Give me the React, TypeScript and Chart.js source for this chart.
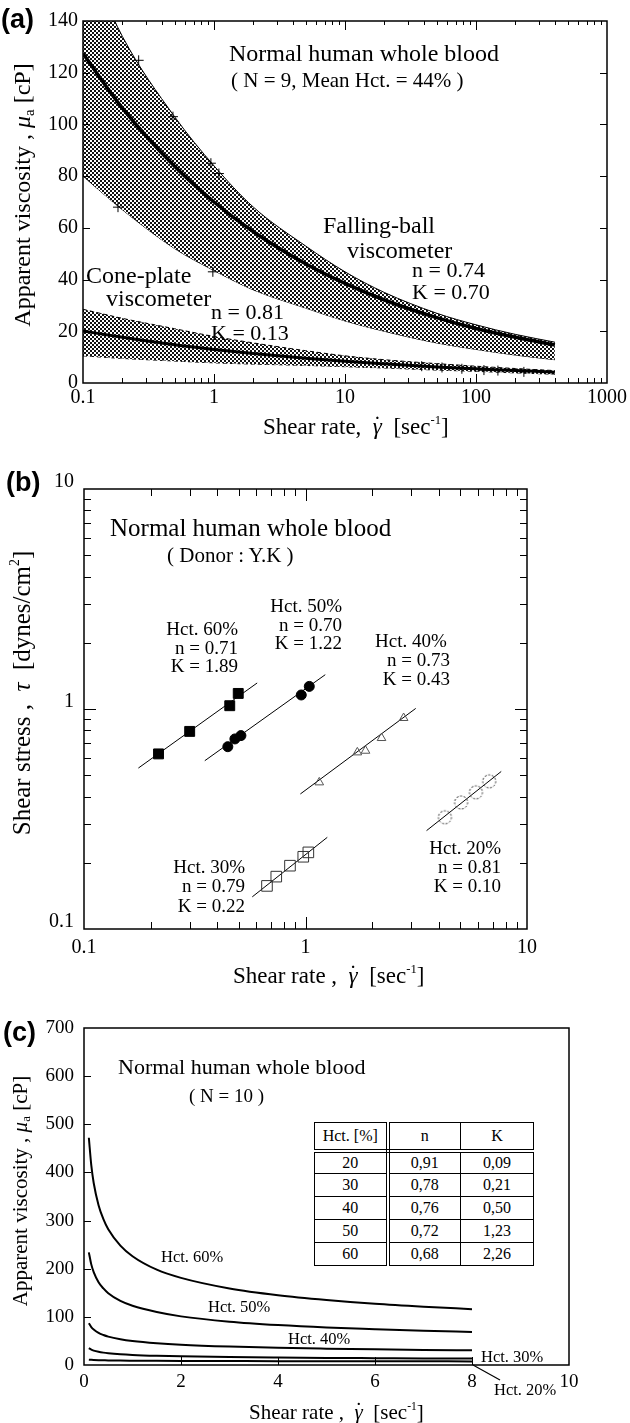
import React, { useEffect, useRef } from 'react';
import { Chart, registerables } from 'chart.js';

Chart.register(...registerables);

const SERIF = "'Liberation Serif', 'Times New Roman', Times, serif";
const SANS = "'Liberation Sans', Arial, Helvetica, sans-serif";

// ---------- Panel (a): apparent viscosity vs shear rate ----------
const A_SHEAR = [0.1, 0.2, 0.5, 1, 2, 5, 10, 20, 50, 100, 200, 400];
const A_FB_MEAN = [127.4, 106.3, 83.8, 70, 58.5, 46.1, 38.5, 32.1, 25.3, 21.1, 17.7, 14.7];
const A_FB_UPPER = [168, 134, 103, 84, 68, 53, 43, 35, 27, 22.5, 18.8, 15.8];
const A_FB_LOWER = [80, 67, 52, 43.5, 36, 29, 24, 20, 15.5, 13, 10.8, 9];
const A_CP_MEAN = [20.1, 17.7, 14.8, 13, 11.4, 9.6, 8.4, 7.4, 6.2, 5.5, 4.8, 4.2];
const A_CP_UPPER = [28.5, 25, 21, 18, 15.5, 12.5, 10.5, 9, 7.5, 6.5, 5.6, 4.8];
const A_CP_LOWER = [10.5, 9.5, 8.5, 7.8, 7.3, 6.8, 6.3, 5.8, 5.0, 4.5, 3.9, 3.4];
const A_MARK_X = [0.266, 0.486, 0.947, 1.09, 0.185, 0.98, 38.5, 55, 78, 115, 147, 232];
const A_MARK_Y = [124.8, 103, 85, 81, 68, 43, 6.5, 6, 5.5, 5, 4.8, 4.3];
const A_X_TICKS = [0.1, 1, 10, 100, 1000];
const A_Y_TICKS = [0, 20, 40, 60, 80, 100, 120, 140];

// ---------- Panel (b): shear stress vs shear rate (log-log) ----------
const B_H60_X = [0.217, 0.3, 0.455, 0.497];
const B_H60_Y = [0.625, 0.791, 1.035, 1.177];
const B_H60_FIT_X = [0.176, 0.605];
const B_H60_FIT_Y = [0.539, 1.313];
const B_H50_X = [0.446, 0.48, 0.511, 0.957, 1.04];
const B_H50_Y = [0.674, 0.731, 0.757, 1.158, 1.267];
const B_H50_FIT_X = [0.351, 1.228];
const B_H50_FIT_Y = [0.582, 1.432];
const B_H40_X = [1.154, 1.714, 1.866, 2.204, 2.773];
const B_H40_Y = [0.464, 0.635, 0.646, 0.738, 0.91];
const B_H40_FIT_X = [0.948, 3.145];
const B_H40_FIT_Y = [0.411, 1.006];
const B_H30_X = [0.67, 0.738, 0.851, 0.977, 1.03];
const B_H30_Y = [0.157, 0.173, 0.194, 0.213, 0.223];
const B_H30_FIT_X = [0.575, 1.254];
const B_H30_FIT_Y = [0.14, 0.261];
const B_H20_X = [4.26, 5.04, 5.88, 6.75];
const B_H20_Y = [0.322, 0.376, 0.418, 0.469];
const B_H20_FIT_X = [3.52, 7.65];
const B_H20_FIT_Y = [0.28, 0.52];
const B_TICKS = [0.1, 1, 10];

// ---------- Panel (c): apparent viscosity vs shear rate (linear) ----------
const C_SHEAR = [0.1, 0.15, 0.2, 0.3, 0.4, 0.5, 0.75, 1, 1.5, 2, 3, 4, 5, 6, 7, 8];
const C_H60 = [472, 415, 378, 332, 303, 282, 248, 226, 198, 181, 159, 145, 135, 127, 121, 116];
const C_H50 = [234, 209, 193, 172, 159, 149, 133, 123, 110, 101, 90, 83, 78, 74.5, 71.3, 68.7];
const C_H40 = [86.9, 78.8, 73.6, 66.7, 62.3, 59, 53.6, 50, 45.4, 42.3, 38.4, 35.8, 34, 32.5, 31.3, 30.4];
const C_H30 = [34.9, 31.9, 29.9, 27.4, 25.7, 24.5, 22.4, 21, 19.2, 18, 16.5, 15.5, 14.7, 14.2, 13.7, 13.3];
const C_H20 = [11.1, 10.7, 10.4, 10.0, 9.8, 9.6, 9.2, 9, 8.7, 8.5, 8.2, 7.9, 7.8, 7.7, 7.6, 7.5];
const C_X_TICKS = [0, 2, 4, 6, 8, 10];
const C_Y_TICKS = [0, 100, 200, 300, 400, 500, 600, 700];
const TABLE_HCT = ['20', '30', '40', '50', '60'];
const TABLE_N = ['0,91', '0,78', '0,76', '0,72', '0,68'];
const TABLE_K = ['0,09', '0,21', '0,50', '1,23', '2,26'];

const pts = (xs: number[], ys: number[]) => xs.map((x, i) => ({ x, y: ys[i] }));

function logMinor(fromExp: number, toExp: number) {
  const out: number[] = [];
  for (let e = fromExp; e < toExp; e++) for (let k = 2; k <= 9; k++) out.push(k * Math.pow(10, e));
  return out;
}

function framePlugin(specs: any[], frameWidth: number) {
  return {
    id: 'frameTicks',
    afterDatasetsDraw(chart: any) {
      const { ctx, chartArea: a } = chart;
      const sx = chart.scales.x;
      const sy = chart.scales.y;
      ctx.save();
      ctx.strokeStyle = '#000';
      ctx.lineWidth = 1;
      for (const s of specs) {
        const sc = s.axis === 'x' ? sx : sy;
        for (const v of s.values) {
          const p = Math.round(sc.getPixelForValue(v)) + 0.5;
          ctx.beginPath();
          if (s.side === 'bottom') { ctx.moveTo(p, a.bottom); ctx.lineTo(p, a.bottom - s.len); }
          else if (s.side === 'top') { ctx.moveTo(p, a.top); ctx.lineTo(p, a.top + s.len); }
          else if (s.side === 'left') { ctx.moveTo(a.left, p); ctx.lineTo(a.left + s.len, p); }
          else { ctx.moveTo(a.right, p); ctx.lineTo(a.right - s.len, p); }
          ctx.stroke();
        }
      }
      ctx.lineWidth = frameWidth;
      ctx.strokeRect(a.left, a.top, a.right - a.left, a.bottom - a.top);
      ctx.restore();
    },
  };
}

function baseOptions(padding: any) {
  return {
    responsive: false,
    maintainAspectRatio: false,
    animation: false,
    events: [],
    layout: { padding },
    plugins: { legend: { display: false }, tooltip: { enabled: false } },
  };
}

function makeScale(type: string, min: number, max: number, tickVals: number[], opts: any) {
  return {
    type,
    min,
    max,
    position: opts.position,
    grid: { display: false, drawTicks: false },
    border: { display: false },
    afterBuildTicks: (s: any) => { s.ticks = tickVals.map((v) => ({ value: v })); },
    ticks: {
      autoSkip: false,
      maxRotation: 0,
      minRotation: 0,
      padding: opts.padding,
      labelOffset: opts.labelOffset || 0,
      color: '#000',
      font: { family: SERIF, size: opts.fontSize },
      callback: (v: any) => String(v),
    },
    afterFit: (s: any) => {
      if (opts.position === 'bottom') s.height = opts.size; else s.width = opts.size;
    },
  };
}

// stipple (dot) pattern used for the scatter bands in panel (a)
function makePattern(ctx: CanvasRenderingContext2D) {
  const c = document.createElement('canvas');
  c.width = 4; c.height = 4;
  const g = c.getContext('2d')!;
  g.fillStyle = '#fff'; g.fillRect(0, 0, 4, 4);
  g.fillStyle = '#111';
  g.fillRect(0, 0, 2, 2);
  g.fillRect(2, 2, 2, 2);
  return ctx.createPattern(c, 'repeat');
}

function dashedCircle() {
  const c = document.createElement('canvas');
  c.width = 17; c.height = 17;
  const g = c.getContext('2d')!;
  g.strokeStyle = '#333'; g.lineWidth = 1; g.setLineDash([2, 1.6]);
  g.beginPath(); g.arc(8.5, 8.5, 6.5, 0, Math.PI * 2); g.stroke();
  return c;
}

const Txt = ({ x, y, size, align, bold, family, children }: any) => (
  <div style={{
    position: 'absolute', left: x, top: y, fontSize: size, lineHeight: 1, whiteSpace: 'pre',
    fontFamily: family || SERIF, fontWeight: bold ? 'bold' : 'normal', color: '#000',
    transform: align === 'right' ? 'translate(-100%,-50%)' : align === 'center' ? 'translate(-50%,-50%)' : 'translateY(-50%)',
  }}>{children}</div>
);

const VTxt = ({ x, y, size, children }: any) => (
  <div style={{
    position: 'absolute', left: x, top: y, fontSize: size, lineHeight: 1, whiteSpace: 'pre',
    fontFamily: SERIF, color: '#000', transform: 'translate(-50%,-50%) rotate(-90deg)',
  }}>{children}</div>
);

const GammaDot = () => (
  <span style={{ position: 'relative', display: 'inline-block', fontStyle: 'italic' }}>
    γ
    <span style={{ position: 'absolute', left: 0, right: 0, top: '-0.08em', textAlign: 'center', fontStyle: 'normal' }}>˙</span>
  </span>
);
const Sup = ({ children }: any) => (
  <span style={{ fontSize: '0.55em', position: 'relative', top: '-0.8em' }}>{children}</span>
);
const Sub = ({ children }: any) => (
  <span style={{ fontSize: '0.62em', position: 'relative', top: '0.25em' }}>{children}</span>
);
const ShearTitle = ({ comma }: any) => (
  <span>Shear rate{comma}{'  '}<GammaDot />{'  '}[sec<Sup>-1</Sup>]</span>
);

export default function App() {
  const aRef = useRef<HTMLCanvasElement>(null);
  const bRef = useRef<HTMLCanvasElement>(null);
  const cRef = useRef<HTMLCanvasElement>(null);

  useEffect(() => {
    const pattern = makePattern(aRef.current!.getContext('2d')!);
    const line = (data: any, extra: any) => ({
      data, borderColor: '#000', borderWidth: 1, pointRadius: 0, fill: false, clip: 0, ...extra,
    });

    // ---------- (a) ----------
    const chartA = new Chart(aRef.current!, {
      type: 'line',
      data: {
        datasets: [
          line(pts(A_SHEAR, A_FB_MEAN), { borderWidth: 3.5, cubicInterpolationMode: 'monotone' }),
          line(pts(A_SHEAR, A_CP_MEAN), { borderWidth: 3, cubicInterpolationMode: 'monotone' }),
          line(pts(A_MARK_X, A_MARK_Y), { showLine: false, pointStyle: 'cross', pointRadius: 5, pointBorderWidth: 1, pointBorderColor: '#000' }),
          line(pts(A_SHEAR, A_FB_UPPER), { cubicInterpolationMode: 'monotone', fill: '+1', backgroundColor: pattern }),
          line(pts(A_SHEAR, A_FB_LOWER), { cubicInterpolationMode: 'monotone' }),
          line(pts(A_SHEAR, A_CP_UPPER), { cubicInterpolationMode: 'monotone', borderDash: [4, 3], fill: '+1', backgroundColor: pattern }),
          line(pts(A_SHEAR, A_CP_LOWER), { cubicInterpolationMode: 'monotone', borderDash: [4, 3] }),
        ],
      },
      options: {
        ...baseOptions({ left: 0, top: 21, right: 23, bottom: 0 }),
        scales: {
          x: makeScale('logarithmic', 0.1, 1000, A_X_TICKS, { position: 'bottom', padding: 3, fontSize: 20, size: 57 }),
          y: makeScale('linear', 0, 140, A_Y_TICKS, { position: 'left', padding: 5, fontSize: 20, size: 83 }),
        },
      } as any,
      plugins: [framePlugin([
        { axis: 'x', side: 'bottom', values: logMinor(-1, 3), len: 5 },
        { axis: 'x', side: 'bottom', values: [1, 10, 100], len: 9 },
        { axis: 'x', side: 'top', values: logMinor(-1, 3), len: 4 },
        { axis: 'x', side: 'top', values: [1, 10, 100], len: 9 },
        { axis: 'y', side: 'left', values: A_Y_TICKS.slice(1, -1), len: 7 },
        { axis: 'y', side: 'right', values: A_Y_TICKS.slice(1, -1), len: 7 },
      ], 1.5)],
    } as any);

    // ---------- (b) ----------
    const circleImg = dashedCircle();
    const chartB = new Chart(bRef.current!, {
      type: 'line',
      data: {
        datasets: [
          line(pts(B_H60_X, B_H60_Y), { showLine: false, pointStyle: 'rect', pointRadius: 7, pointBackgroundColor: '#000', pointBorderColor: '#000' }),
          line(pts(B_H50_X, B_H50_Y), { showLine: false, pointStyle: 'circle', pointRadius: 5, pointBackgroundColor: '#000', pointBorderColor: '#000' }),
          line(pts(B_H40_X, B_H40_Y), { showLine: false, pointStyle: 'triangle', pointRadius: 5, pointBackgroundColor: 'rgba(0,0,0,0)', pointBorderColor: '#555', pointBorderWidth: 1 }),
          line(pts(B_H30_X, B_H30_Y), { showLine: false, pointStyle: 'rect', pointRadius: 7.5, pointBackgroundColor: 'rgba(0,0,0,0)', pointBorderColor: '#333', pointBorderWidth: 1 }),
          line(pts(B_H20_X, B_H20_Y), { showLine: false, pointStyle: circleImg, pointRadius: 7 }),
          line(pts(B_H60_FIT_X, B_H60_FIT_Y), {}),
          line(pts(B_H50_FIT_X, B_H50_FIT_Y), {}),
          line(pts(B_H40_FIT_X, B_H40_FIT_Y), {}),
          line(pts(B_H30_FIT_X, B_H30_FIT_Y), {}),
          line(pts(B_H20_FIT_X, B_H20_FIT_Y), {}),
        ],
      },
      options: {
        ...baseOptions({ left: 0, top: 49, right: 103, bottom: 0 }),
        scales: {
          x: makeScale('logarithmic', 0.1, 10, B_TICKS, { position: 'bottom', padding: 7, fontSize: 20, size: 56 }),
          y: makeScale('logarithmic', 0.1, 10, B_TICKS, { position: 'left', padding: 10, fontSize: 20, size: 84, labelOffset: -7 }),
        },
      } as any,
      plugins: [framePlugin([
        { axis: 'x', side: 'bottom', values: logMinor(-1, 1), len: 7 },
        { axis: 'x', side: 'bottom', values: [1], len: 12 },
        { axis: 'x', side: 'top', values: logMinor(-1, 1), len: 7 },
        { axis: 'x', side: 'top', values: [1], len: 12 },
        { axis: 'y', side: 'left', values: logMinor(-1, 1), len: 7 },
        { axis: 'y', side: 'left', values: [1], len: 12 },
        { axis: 'y', side: 'right', values: logMinor(-1, 1), len: 7 },
        { axis: 'y', side: 'right', values: [1], len: 12 },
      ], 1.5)],
    } as any);

    // ---------- (c) ----------
    const chartC = new Chart(cRef.current!, {
      type: 'line',
      data: {
        datasets: [C_H60, C_H50, C_H40, C_H30, C_H20].map((ys) =>
          line(pts(C_SHEAR, ys), { borderWidth: 2, cubicInterpolationMode: 'monotone' })),
      },
      options: {
        ...baseOptions({ left: 0, top: 43, right: 61, bottom: 0 }),
        scales: {
          x: makeScale('linear', 0, 10, C_X_TICKS, { position: 'bottom', padding: 6, fontSize: 19, size: 58 }),
          y: makeScale('linear', 0, 700, C_Y_TICKS, { position: 'left', padding: 10, fontSize: 19, size: 84 }),
        },
      } as any,
      plugins: [framePlugin([
        { axis: 'x', side: 'bottom', values: C_X_TICKS.slice(1, -1), len: 8 },
        { axis: 'y', side: 'left', values: C_Y_TICKS.slice(1, -1), len: 7 },
      ], 1.5)],
    } as any);

    return () => { chartA.destroy(); chartB.destroy(); chartC.destroy(); };
  }, []);

  const cell: any = { border: '1px solid #000', padding: 0, textAlign: 'center', verticalAlign: 'middle' };
  const dbl = '4px double #000';

  return (
    <div style={{ position: 'absolute', left: 0, top: 0, width: 630, height: 1423, background: '#fff', overflow: 'hidden' }}>
      <canvas ref={aRef} width={630} height={440} style={{ position: 'absolute', left: 0, top: 0 }} />
      <canvas ref={bRef} width={630} height={545} style={{ position: 'absolute', left: 0, top: 440 }} />
      <canvas ref={cRef} width={630} height={438} style={{ position: 'absolute', left: 0, top: 985 }} />

      {/* (a) */}
      <Txt x={1} y={19} size={27} bold family={SANS}>(a)</Txt>
      <Txt x={229} y={53} size={24}>Normal human whole blood</Txt>
      <Txt x={231} y={80} size={21}>( N = 9, Mean Hct. = 44% )</Txt>
      <Txt x={323} y={225} size={24}>Falling-ball</Txt>
      <Txt x={347} y={250} size={24}>viscometer</Txt>
      <Txt x={412} y={270} size={22}>n = 0.74</Txt>
      <Txt x={412} y={292} size={22}>K = 0.70</Txt>
      <Txt x={86} y={275} size={24}>Cone-plate</Txt>
      <Txt x={106} y={298} size={24}>viscometer</Txt>
      <Txt x={211} y={312} size={22}>n = 0.81</Txt>
      <Txt x={211} y={333} size={22}>K = 0.13</Txt>
      <Txt x={263} y={426} size={23}><ShearTitle comma="," /></Txt>
      <VTxt x={22} y={195} size={24}>Apparent viscosity , <i>μ</i><Sub>a</Sub> [cP]</VTxt>

      {/* (b) */}
      <Txt x={6} y={482} size={27} bold family={SANS}>(b)</Txt>
      <Txt x={110} y={527} size={25}>Normal human whole blood</Txt>
      <Txt x={167} y={555} size={21}>( Donor : Y.K )</Txt>
      <Txt x={238} y={628} size={19} align="right">Hct. 60%</Txt>
      <Txt x={238} y={647} size={19} align="right">n = 0.71</Txt>
      <Txt x={238} y={665} size={19} align="right">K = 1.89</Txt>
      <Txt x={342} y={605} size={19} align="right">Hct. 50%</Txt>
      <Txt x={342} y={624} size={19} align="right">n = 0.70</Txt>
      <Txt x={342} y={642} size={19} align="right">K = 1.22</Txt>
      <Txt x={375} y={640} size={19}>Hct. 40%</Txt>
      <Txt x={450} y={659} size={19} align="right">n = 0.73</Txt>
      <Txt x={450} y={678} size={19} align="right">K = 0.43</Txt>
      <Txt x={245} y={866} size={19} align="right">Hct. 30%</Txt>
      <Txt x={245} y={885} size={19} align="right">n = 0.79</Txt>
      <Txt x={245} y={905} size={19} align="right">K = 0.22</Txt>
      <Txt x={501} y={847} size={19} align="right">Hct. 20%</Txt>
      <Txt x={501} y={866} size={19} align="right">n = 0.81</Txt>
      <Txt x={501} y={885} size={19} align="right">K = 0.10</Txt>
      <Txt x={233} y={975} size={23}><ShearTitle comma=" ," /></Txt>
      <VTxt x={21} y={693} size={25}>Shear stress ,  <i>τ</i>  [dynes/cm<Sup>2</Sup>]</VTxt>

      {/* (c) */}
      <Txt x={3} y={1032} size={27} bold family={SANS}>(c)</Txt>
      <Txt x={118} y={1067} size={22}>Normal human whole blood</Txt>
      <Txt x={189} y={1095} size={19}>( N = 10 )</Txt>
      <table style={{ position: 'absolute', left: 314, top: 1122, width: 219, borderCollapse: 'collapse', tableLayout: 'fixed', fontFamily: SERIF, fontSize: 16, background: '#fff' }}>
        <colgroup><col style={{ width: 73 }} /><col style={{ width: 73 }} /><col style={{ width: 73 }} /></colgroup>
        <tbody>
          <tr style={{ height: 28 }}>
            <td style={{ ...cell, borderRight: dbl, borderBottom: dbl }}>Hct. [%]</td>
            <td style={{ ...cell, borderBottom: dbl }}>n</td>
            <td style={{ ...cell, borderBottom: dbl }}>K</td>
          </tr>
          {TABLE_HCT.map((h, i) => (
            <tr key={h} style={{ height: 23 }}>
              <td style={{ ...cell, borderRight: dbl }}>{h}</td>
              <td style={cell}>{TABLE_N[i]}</td>
              <td style={cell}>{TABLE_K[i]}</td>
            </tr>
          ))}
        </tbody>
      </table>
      <Txt x={161} y={1257} size={16.5}>Hct. 60%</Txt>
      <Txt x={208} y={1307} size={16.5}>Hct. 50%</Txt>
      <Txt x={288} y={1339} size={16.5}>Hct. 40%</Txt>
      <Txt x={481} y={1357} size={16.5}>Hct. 30%</Txt>
      <Txt x={494} y={1390} size={16.5}>Hct. 20%</Txt>
      <svg width={630} height={1423} style={{ position: 'absolute', left: 0, top: 0, pointerEvents: 'none' }}>
        <line x1={500} y1={1380} x2={473} y2={1365} stroke="#000" strokeWidth={1.2} />
      </svg>
      <Txt x={249} y={1412} size={21}><ShearTitle comma=" ," /></Txt>
      <VTxt x={20} y={1191} size={21}>Apparent viscosity , <i>μ</i><Sub>a</Sub> [cP]</VTxt>
    </div>
  );
}
